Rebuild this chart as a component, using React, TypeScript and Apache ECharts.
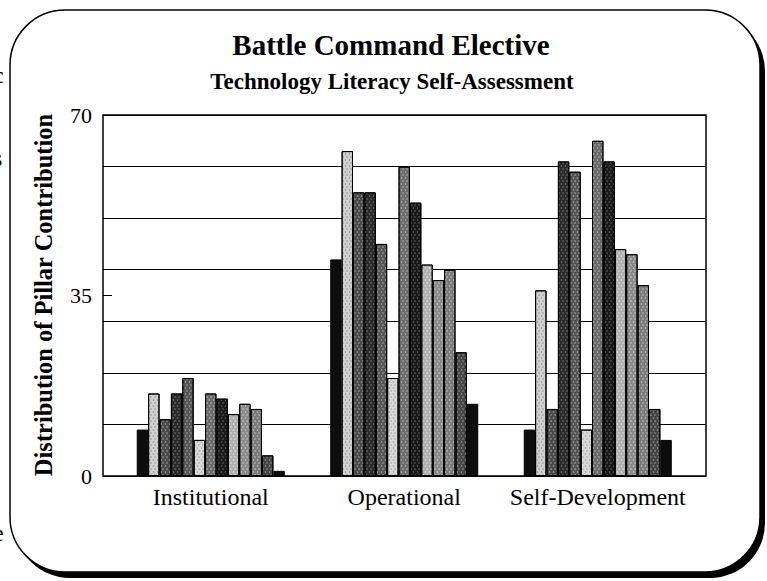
import React, { useEffect, useRef } from "react";
import * as echarts from "echarts";

const categories = ["Institutional", "Operational", "Self-Development"];
const seriesNames = [
  "Series 1", "Series 2", "Series 3", "Series 4", "Series 5", "Series 6", "Series 7",
  "Series 8", "Series 9", "Series 10", "Series 11", "Series 12", "Series 13",
];
// values per series: [Institutional, Operational, Self-Development]
const s1 = [9, 42, 9];
const s2 = [16, 63, 36];
const s3 = [11, 55, 13];
const s4 = [16, 55, 61];
const s5 = [19, 45, 59];
const s6 = [7, 19, 9];
const s7 = [16, 60, 65];
const s8 = [15, 53, 61];
const s9 = [12, 41, 44];
const s10 = [14, 38, 43];
const s11 = [13, 40, 37];
const s12 = [4, 24, 13];
const s13 = [1, 14, 7];
const allSeries = [s1, s2, s3, s4, s5, s6, s7, s8, s9, s10, s11, s12, s13];
const yTicks = [0, 35, 70];

const colors = [
  "#0d0d0d", "#d0d0d0", "#4a4a4a", "#2a2a2a", "#555555", "#d8d8d8", "#6a6a6a",
  "#1a1a1a", "#b0b0b0", "#8a8a8a", "#7a7a7a", "#444444", "#0d0d0d",
];
const dotColors = [
  null, "rgba(0,0,0,0.35)", "rgba(255,255,255,0.55)", "rgba(255,255,255,0.4)", "rgba(255,255,255,0.55)",
  "rgba(0,0,0,0.3)", "rgba(255,255,255,0.6)", "rgba(255,255,255,0.35)", "rgba(255,255,255,0.7)",
  "rgba(255,255,255,0.6)", "rgba(255,255,255,0.6)", "rgba(255,255,255,0.5)", null,
];

const FONT = "Liberation Serif";

export default function App() {
  const ref = useRef<HTMLDivElement>(null);
  useEffect(() => {
    if (!ref.current) return;
    const chart = echarts.init(ref.current, undefined, { renderer: "svg" });
    chart.setOption({
      animation: false,
      backgroundColor: "#fff",
      grid: [
        { left: 103, right: 61, top: 115, bottom: 105, show: true, borderColor: "#000", borderWidth: 1.5, backgroundColor: "transparent" },
        { left: 114, width: 580.5, top: 115, bottom: 105 },
      ],
      xAxis: [
        { type: "value", gridIndex: 0, show: false, min: 0, max: 1 },
        {
          type: "category",
          gridIndex: 1,
          data: categories,
          axisLine: { show: false },
          axisTick: { show: false },
          axisLabel: { interval: 0, hideOverlap: false, fontFamily: FONT, fontSize: 24, color: "#000", margin: 9 },
        },
      ],
      yAxis: [
        {
          type: "value", gridIndex: 0, min: 0, max: 70, interval: 10,
          axisLabel: { show: false }, axisTick: { show: false }, axisLine: { show: false },
          splitLine: { show: true, lineStyle: { color: "#000", width: 1 } },
        },
        {
          type: "value", gridIndex: 0, min: yTicks[0], max: yTicks[2], interval: yTicks[1] - yTicks[0],
          position: "left",
          axisLabel: { show: true, fontFamily: FONT, fontSize: 22, color: "#000", margin: 11 },
          axisTick: { show: true, inside: true, length: 9, lineStyle: { color: "#000" } },
          axisLine: { show: false },
          splitLine: { show: false },
        },
        { type: "value", gridIndex: 1, min: 0, max: 70, show: false },
      ],
      series: allSeries.map((d, i) => ({
        name: seriesNames[i],
        type: "bar",
        xAxisIndex: 1,
        yAxisIndex: 2,
        data: d,
        barGap: "0%",
        barCategoryGap: "23.5%",
        itemStyle: {
          color: colors[i],
          borderColor: "#000",
          borderWidth: 1,
          decal: dotColors[i]
            ? { symbol: "circle", symbolSize: 0.7, color: dotColors[i], dashArrayX: [[3, 1], [0, 2, 2, 0]], dashArrayY: [2, 1], rotation: 0 }
            : undefined,
        },
      })),
      graphic: [
        { type: "rect", z: -10, shape: { x: 15, y: 16, width: 750, height: 562, r: 55 }, style: { fill: "#000" } },
        { type: "rect", z: -9, shape: { x: 10, y: 10, width: 750, height: 562, r: 55 }, style: { fill: "#fff", stroke: "#000", lineWidth: 1.5 } },
        { type: "text", x: 391, y: 45, style: { text: "Battle Command Elective", font: `bold 29px "${FONT}"`, fill: "#000", textAlign: "center", textVerticalAlign: "middle" } },
        { type: "text", x: 392, y: 81, style: { text: "Technology Literacy Self-Assessment", font: `bold 23px "${FONT}"`, fill: "#000", textAlign: "center", textVerticalAlign: "middle" } },
        { type: "text", x: 43, y: 295, rotation: Math.PI / 2, style: { text: "Distribution of Pillar Contribution", font: `bold 24.5px "${FONT}"`, fill: "#000", textAlign: "center", textVerticalAlign: "middle" } },
        { type: "text", x: -7, y: 75, style: { text: "c", font: `24px "${FONT}"`, fill: "#000", textVerticalAlign: "middle" } },
        { type: "text", x: -7, y: 158, style: { text: "s", font: `24px "${FONT}"`, fill: "#000", textVerticalAlign: "middle" } },
        { type: "text", x: -7, y: 533, style: { text: "e", font: `24px "${FONT}"`, fill: "#000", textVerticalAlign: "middle" } },
      ],
    });
    return () => chart.dispose();
  }, []);
  return <div ref={ref} style={{ position: "absolute", left: 0, top: 0, width: 767, height: 581 }} />;
}
